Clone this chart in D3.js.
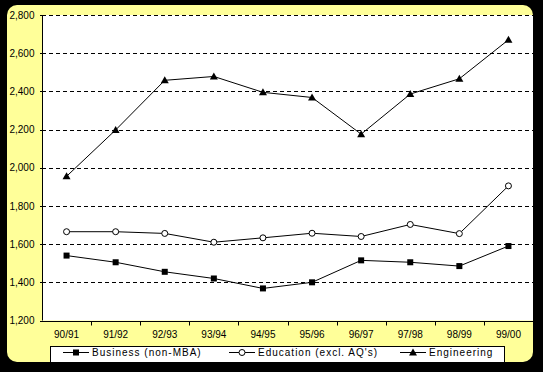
<!DOCTYPE html>
<html>
<head>
<meta charset="utf-8">
<script src="https://cdn.jsdelivr.net/npm/d3@7"></script>
<style>
  html, body { margin: 0; padding: 0; background: #000; }
  svg { display: block; }
  text { font-family: Arial, "Liberation Sans", sans-serif; font-size: 10px; fill: #000; }
</style>
</head>
<body>
<svg id="chart" width="543" height="372"></svg>
<script>
const years = ["90/91", "91/92", "92/93", "93/94", "94/95", "95/96", "96/97", "97/98", "98/99", "99/00"];
const business = [1540, 1505, 1455, 1420, 1368, 1400, 1515, 1505, 1485, 1590];
const education = [1665, 1665, 1656, 1610, 1633, 1657, 1640, 1703, 1655, 1905];
const engineering = [1955, 2198, 2458, 2478, 2395, 2368, 2176, 2386, 2466, 2670];
const yTicks = [1200, 1400, 1600, 1800, 2000, 2200, 2400, 2600, 2800];
const seriesNames = ["Business (non-MBA)", "Education (excl. AQ's)", "Engineering"];

const series = [
    { name: seriesNames[0], values: business, marker: "square" },
    { name: seriesNames[1], values: education, marker: "circle" },
    { name: seriesNames[2], values: engineering, marker: "triangle" }
];

const svg = d3.select("#chart");
const plot = { left: 42, right: 533, top: 15, bottom: 320.5 };

// yellow panel behind everything
svg.append("rect")
    .attr("x", 7).attr("y", 5)
    .attr("width", 526).attr("height", 357)
    .attr("rx", 10).attr("ry", 10)
    .attr("fill", "#ffff99");

svg.append("rect")
    .attr("x", plot.left).attr("y", plot.top)
    .attr("width", plot.right - plot.left)
    .attr("height", plot.bottom - plot.top)
    .attr("fill", "#fff");

const x = d3.scaleBand()
    .domain(years)
    .range([plot.left, plot.right])
    .padding(0);

const y = d3.scaleLinear()
    .domain([1200, 2800])
    .range([plot.bottom, plot.top]);

// dashed gridlines
svg.append("g")
    .selectAll("line")
    .data(yTicks.filter(d => d > 1200))
    .enter()
    .append("line")
    .attr("x1", plot.left).attr("x2", plot.right)
    .attr("y1", d => Math.round(y(d)) + 0.5)
    .attr("y2", d => Math.round(y(d)) + 0.5)
    .attr("stroke", "#000")
    .attr("stroke-dasharray", "4,3")
    .attr("shape-rendering", "crispEdges");

// y axis
const yAxis = svg.append("g")
    .attr("transform", `translate(${plot.left + 0.5},0)`)
    .call(d3.axisLeft(y)
        .tickValues(yTicks)
        .tickSize(3)
        .tickPadding(5)
        .tickFormat(d3.format(",")));
yAxis.select(".domain").attr("stroke", "#000").attr("d", `M0,${plot.top}V${plot.bottom}`);
yAxis.selectAll(".tick line").attr("stroke", "#000").attr("shape-rendering", "crispEdges");
yAxis.selectAll("text").attr("font-family", null).attr("font-size", null);

// x axis: ticks at category boundaries, labels at centres
const xAxis = svg.append("g")
    .attr("transform", `translate(0,${Math.round(plot.bottom) + 0.5})`);
xAxis.append("line")
    .attr("x1", plot.left).attr("x2", plot.right)
    .attr("stroke", "#000");
xAxis.selectAll(".bt")
    .data(years.slice(1).concat(["end"]))
    .enter()
    .append("line")
    .attr("class", "bt")
    .attr("x1", (d, i) => Math.round(x(years[0]) + x.bandwidth() * (i + 1)) + 0.5)
    .attr("x2", (d, i) => Math.round(x(years[0]) + x.bandwidth() * (i + 1)) + 0.5)
    .attr("y1", 0).attr("y2", 4)
    .attr("stroke", "#000");
xAxis.selectAll("text")
    .data(years)
    .enter()
    .append("text")
    .attr("x", d => x(d) + x.bandwidth() / 2)
    .attr("y", 16)
    .attr("text-anchor", "middle")
    .text(d => d);

// series lines and markers
const line = d3.line()
    .x((d, i) => x(years[i]) + x.bandwidth() / 2)
    .y(d => y(d));

function drawMarker(g, type, cx, cy) {
    if (type === "square") {
        g.append("rect")
            .attr("x", cx - 3).attr("y", cy - 3)
            .attr("width", 6).attr("height", 6)
            .attr("fill", "#000");
    } else if (type === "circle") {
        g.append("circle")
            .attr("cx", cx).attr("cy", cy).attr("r", 3)
            .attr("fill", "#fff").attr("stroke", "#000");
    } else {
        g.append("path")
            .attr("d", `M${cx},${cy - 4}L${cx + 4},${cy + 3}L${cx - 4},${cy + 3}Z`)
            .attr("fill", "#000");
    }
}

series.forEach(s => {
    const g = svg.append("g");
    g.append("path")
        .datum(s.values)
        .attr("d", line)
        .attr("fill", "none")
        .attr("stroke", "#000")
        .attr("stroke-width", 1);
    s.values.forEach((v, i) => {
        drawMarker(g, s.marker, x(years[i]) + x.bandwidth() / 2, y(v));
    });
});

// legend
const legend = svg.append("g");
legend.append("rect")
    .attr("x", 50.5).attr("y", 346.5)
    .attr("width", 454).attr("height", 16)
    .attr("fill", "#fff")
    .attr("stroke", "#000");

const legendX = [63, 229, 400];
series.forEach((s, i) => {
    const lg = legend.append("g");
    const lx = legendX[i];
    lg.append("line")
        .attr("x1", lx).attr("x2", lx + 26)
        .attr("y1", 352.5).attr("y2", 352.5)
        .attr("stroke", "#000");
    drawMarker(lg, s.marker, lx + 13, 352.5);
    lg.append("text")
        .attr("x", lx + 29)
        .attr("y", 356)
        .attr("letter-spacing", "1px")
        .text(s.name);
});
</script>
</body>
</html>
